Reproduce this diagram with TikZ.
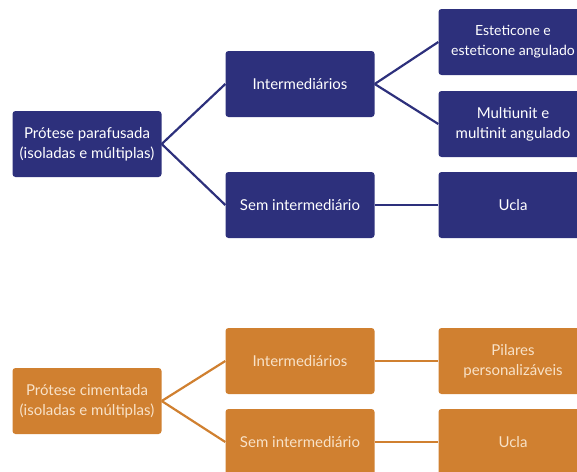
\documentclass[tikz,border=0pt]{standalone}
\usepackage{fontspec}
\setmainfont{Lato}
\usetikzlibrary{calc}

\begin{document}
\begin{tikzpicture}[x=1pt,y=-1pt,
  caixa/.style={rounded corners=3pt, minimum width=149pt, minimum height=66pt,
    align=center, inner sep=2pt, font=\fontsize{15}{20}\selectfont},
  azul/.style={caixa, fill=Anil, text=white},
  laranja/.style={caixa, fill=Ocre, text=Creme},
  ligaA/.style={draw=Anil, line width=2.2pt},
  ligaL/.style={draw=Ocre, line width=2.2pt}]
\definecolor{Anil}{RGB}{45,48,124}
\definecolor{Ocre}{RGB}{208,128,48}
\definecolor{Creme}{RGB}{248,226,200}
\def\xa{87}
\def\xb{300}
\def\xc{513}

\useasboundingbox (0,0) rectangle (577,471);
\clip (0,0) rectangle (577,471);

% protese parafusada
\begin{scope}[]
\node[azul] (PP) at (\xa,144) {Prótese parafusada\\(isoladas e múltiplas)};
\node[azul] (IntA) at (\xb,84) {Intermediários};
\node[azul] (SemA) at (\xb,205) {Sem intermediário};
\node[azul, font=\fontsize{14}{20}\selectfont] (Est) at (\xc,42) {Esteticone e\\esteticone angulado};
\node[azul] (Mul) at (\xc,124) {Multiunit e\\multinit angulado};
\node[azul] (UclaA) at (\xc,205) {Ucla};

\draw[ligaA] (PP.east) -- (IntA.west);
\draw[ligaA] (PP.east) -- (SemA.west);
\draw[ligaA] (IntA.east) -- (Est.west);
\draw[ligaA] (IntA.east) -- (Mul.west);
\draw[ligaA] (SemA.east) -- (UclaA.west);
\end{scope}

% protese cimentada
\begin{scope}[]
\node[laranja] (PC) at (\xa,401) {Prótese cimentada\\(isoladas e múltiplas)};
\node[laranja] (IntL) at (\xb,361) {Intermediários};
\node[laranja] (SemL) at (\xb,442) {Sem intermediário};
\node[laranja] (Pil) at (\xc,361) {Pilares\\personalizáveis};
\node[laranja] (UclaL) at (\xc,442) {Ucla};

\draw[ligaL] (PC.east) -- (IntL.west);
\draw[ligaL] (PC.east) -- (SemL.west);
\draw[ligaL] (IntL.east) -- (Pil.west);
\draw[ligaL] (SemL.east) -- (UclaL.west);
\end{scope}

\end{tikzpicture}
\end{document}
